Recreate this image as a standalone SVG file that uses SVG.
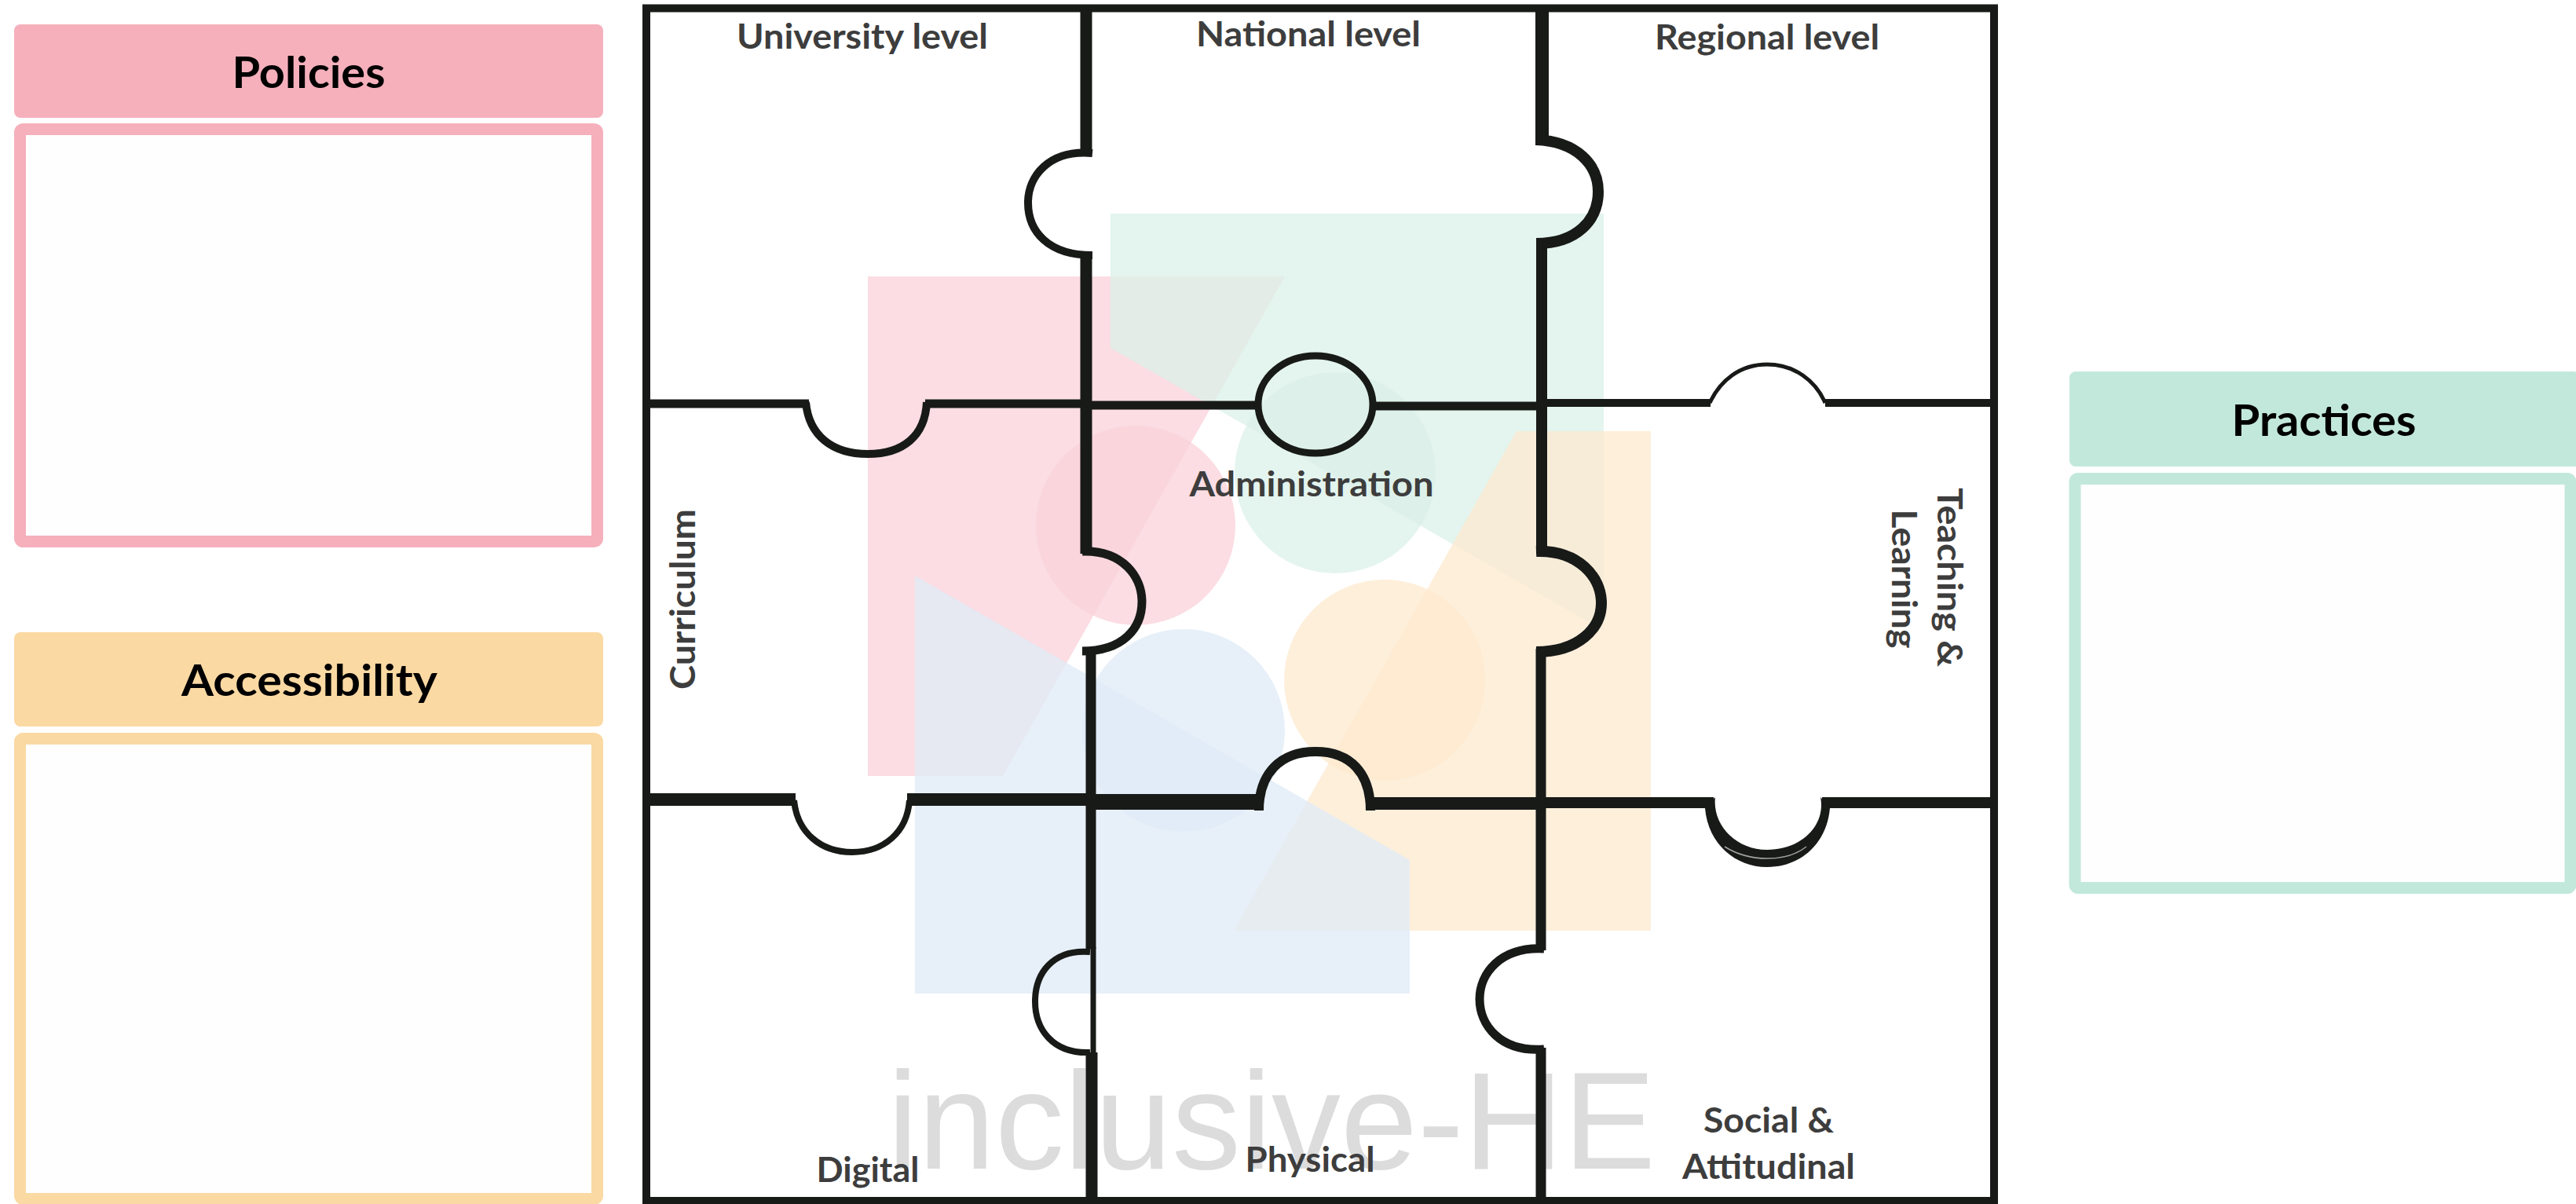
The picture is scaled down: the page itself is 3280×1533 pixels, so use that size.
<svg xmlns="http://www.w3.org/2000/svg" width="3280" height="1533" viewBox="0 0 3280 1533">
<style>
.lp{fill-opacity:.75}
.ln{fill:none;stroke:#181a18;stroke-linecap:butt;stroke-linejoin:miter}
.h{font-family:Lato,"Liberation Sans",sans-serif;font-weight:700;font-size:56px;fill:#000;text-anchor:middle}
.l{font-family:Lato,"Liberation Sans",sans-serif;font-weight:700;font-size:44px;fill:#3d3d3d;text-anchor:middle}
</style>
<rect width="3280" height="1533" fill="#fff"/>
<g id="logo">
<g class="lp">
<path fill="#f9d2da" d="M1105 352H1636L1277 988H1105Z"/>
<circle cx="1446" cy="669" r="127" fill="#f9d2da"/>
<path fill="#dbf0e8" d="M1414 272H2042V803L1414 443Z"/>
<circle cx="1700" cy="602" r="128" fill="#dbf0e8"/>
<path fill="#feeacf" d="M1931 549H2102V1185H1571Z"/>
<circle cx="1763" cy="866" r="128" fill="#feeacf"/>
<path fill="#dfebf7" d="M1165 733L1795 1095V1265H1165Z"/>
<circle cx="1507" cy="930" r="129" fill="#dfebf7"/>
</g>
<text x="1130" y="1488" font-family="Liberation Sans,sans-serif" font-size="176" fill="#dcdcdc">inclusive-HE</text>
</g>
<g id="policies">
<rect x="18" y="31" width="750" height="119" rx="8" fill="#f5b0bc"/>
<rect x="25.500" y="164.500" width="735" height="525" rx="4" fill="#fefefe" stroke="#f5b0bc" stroke-width="15"/>
<text class="h" x="393" y="112" textLength="195" lengthAdjust="spacingAndGlyphs">Policies</text>
</g>
<g id="accessibility">
<rect x="18" y="805" width="750" height="120" rx="8" fill="#fbd9a3"/>
<rect x="25.500" y="940.500" width="735" height="586" rx="4" fill="#fefefe" stroke="#fbd9a3" stroke-width="15"/>
<text class="h" x="394" y="886" textLength="326" lengthAdjust="spacingAndGlyphs">Accessibility</text>
</g>
<g id="practices">
<rect x="2635" y="473" width="650" height="121" rx="8" fill="#c2e8dc"/>
<rect x="2642" y="609.500" width="631" height="521" rx="4" fill="#fefefe" stroke="#c2e8dc" stroke-width="15"/>
<text class="h" x="2959" y="555" textLength="235" lengthAdjust="spacingAndGlyphs">Practices</text>
</g>
<g id="connectors">
<rect class="ln" x="823" y="10.500" width="1716" height="1518.500" stroke-width="10"/>
<path class="ln" stroke-width="15" d="M1383 10V195"/>
<path class="ln" stroke-width="10" d="M1391 195C1335 190 1309 225 1309 258C1309 295 1335 325 1391 325"/>
<path class="ln" stroke-width="15" d="M1383 322V705"/>
<path class="ln" stroke-width="11" d="M1378 702C1430 700 1454 735 1454 766C1454 800 1430 829 1378 829"/>
<path class="ln" stroke-width="13" d="M1389 826V1208"/>
<path class="ln" stroke-width="8" d="M1388 1212C1340 1208 1318 1240 1318 1275C1318 1310 1340 1342 1388 1340"/>
<path class="ln" stroke-width="7" d="M1392 1206V1342"/>
<path class="ln" stroke-width="15" d="M1390 1340V1529"/>
<path class="ln" stroke-width="17" d="M1963.500 10V185"/>
<path class="ln" stroke-width="14" d="M1956 178C2008 180 2035 210 2035 244C2035 280 2008 310 1956 310"/>
<path class="ln" stroke-width="14" d="M1963 306V705"/>
<path class="ln" stroke-width="14" d="M1956 702C2010 700 2039 735 2039 768C2039 800 2010 830 1956 830"/>
<path class="ln" stroke-width="13" d="M1962 826V1210"/>
<path class="ln" stroke-width="11" d="M1966 1208C1910 1205 1884 1240 1884 1272C1884 1305 1910 1340 1966 1336"/>
<path class="ln" stroke-width="13" d="M1962 1334V1529"/>
<path class="ln" stroke-width="11" d="M823 514H1030"/>
<path class="ln" stroke-width="10" d="M1026 512C1030 555 1060 578 1105 578C1150 578 1178 555 1180 512"/>
<path class="ln" stroke-width="11" d="M1178 514H1383"/>
<path class="ln" stroke-width="11" d="M1383 516H1602"/>
<ellipse class="ln" cx="1675" cy="515" rx="73" ry="62" stroke-width="9"/>
<path class="ln" stroke-width="11" d="M1748 517H1963"/>
<path class="ln" stroke-width="10" d="M1963 513H2178"/>
<path class="ln" stroke-width="5" d="M2177 513C2190 485 2215 464 2250 464C2285 464 2312 485 2324 513"/>
<path class="ln" stroke-width="10" d="M2324 513H2538"/>
<path class="ln" stroke-width="16" d="M823 1018H1013"/>
<path class="ln" stroke-width="8" d="M1011 1019C1015 1060 1045 1085 1085 1085C1125 1085 1155 1060 1158 1019"/>
<path class="ln" stroke-width="16" d="M1155 1018H1390"/>
<path class="ln" stroke-width="20" d="M1390 1021H1603"/>
<path class="ln" stroke-width="12" d="M1603 1032C1603 985 1630 957 1675 957C1720 957 1745 985 1745 1032"/>
<path class="ln" stroke-width="16" d="M1745 1023H1963"/>
<path class="ln" stroke-width="14" d="M1963 1022H2182"/>
<path fill="#181a18" d="M2171 1029C2175 1075 2210 1104 2250 1104C2292 1104 2326 1075 2330 1029L2318 1015C2325 1050 2295 1082 2250 1082C2210 1082 2180 1050 2184 1015Z"/>
<path fill="none" stroke="#fff" stroke-width="1.500" stroke-opacity=".6" d="M2196 1078C2215 1090 2235 1093 2250 1093C2265 1093 2285 1090 2300 1078"/>
<path class="ln" stroke-width="14" d="M2320 1022H2538"/>
</g>
<g id="university"><text class="l" x="1098" y="62" textLength="320" lengthAdjust="spacingAndGlyphs">University level</text></g>
<g id="national"><text class="l" x="1666" y="59" textLength="286" lengthAdjust="spacingAndGlyphs">National level</text></g>
<g id="regional"><text class="l" x="2250" y="63" textLength="286" lengthAdjust="spacingAndGlyphs">Regional level</text></g>
<g id="administration"><text class="l" x="1670" y="632" textLength="311" lengthAdjust="spacingAndGlyphs">Administration</text></g>
<g id="curriculum"><text class="l" transform="translate(885 763) rotate(-90)" textLength="230" lengthAdjust="spacingAndGlyphs">Curriculum</text></g>
<g id="teaching"><text class="l" transform="translate(2467 735) rotate(90)" textLength="228" lengthAdjust="spacingAndGlyphs">Teaching &amp;</text><text class="l" transform="translate(2409 737) rotate(90)" textLength="177" lengthAdjust="spacingAndGlyphs">Learning</text></g>
<g id="digital"><text class="l" x="1105" y="1505" textLength="131" lengthAdjust="spacingAndGlyphs">Digital</text></g>
<g id="physical"><text class="l" x="1668" y="1492" textLength="165" lengthAdjust="spacingAndGlyphs">Physical</text></g>
<g id="social"><text class="l" x="2252" y="1442" textLength="166" lengthAdjust="spacingAndGlyphs">Social &amp;</text><text class="l" x="2252" y="1501" textLength="220" lengthAdjust="spacingAndGlyphs">Attitudinal</text></g>
</svg>
